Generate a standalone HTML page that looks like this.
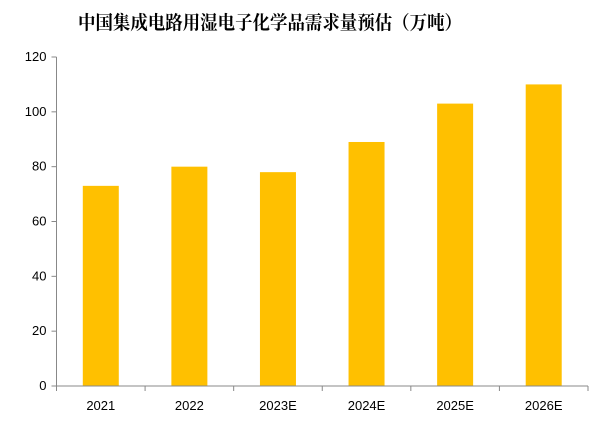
<!DOCTYPE html>
<html><head><meta charset="utf-8"><style>
body{margin:0;background:#fff;}
svg text{font-family:"Liberation Sans","Noto Sans CJK SC",sans-serif;}
</style></head><body>
<svg width="602" height="420" xmlns="http://www.w3.org/2000/svg">
<text x="78" y="29" font-size="19" font-weight="bold" fill="#000" textLength="384" lengthAdjust="spacingAndGlyphs" style="font-family:'Liberation Serif','Noto Serif CJK SC',serif">中国集成电路用湿电子化学品需求量预估（万吨）</text>
<g id="g"></g>
</svg>
<script>
const categories=["2021","2022","2023E","2024E","2025E","2026E"];
const values=[73,80,78,89,103,110];
const yTicks=[0,20,40,60,80,100,120];
const x0=56.5,x1=588,y0=386,y1=57,yMax=120;
const bw=(x1-x0)/categories.length;
function ys(v){return y0-(v/yMax)*(y0-y1);}
function xc(i){return x0+bw*(i+0.5);}
const g=document.getElementById('g');const NS="http://www.w3.org/2000/svg";
function mk(t,a){const e=document.createElementNS(NS,t);for(const k in a)e.setAttribute(k,a[k]);g.appendChild(e);return e;}
values.forEach((v,i)=>{const r=mk('rect',{x:xc(i)-18,y:ys(v),width:36,height:y0-ys(v),fill:'#FFC000'});

});
let ax=mk('line',{x1:x0,y1:y1,x2:x0,y2:y0,stroke:'#888','stroke-width':1});


let bx=mk('line',{x1:x0,y1:y0,x2:x1,y2:y0,stroke:'#888','stroke-width':1});


yTicks.forEach(v=>{mk('line',{x1:x0-5,y1:ys(v),x2:x0,y2:ys(v),stroke:'#888'});
const t=mk('text',{x:x0-10,y:ys(v)+4,'text-anchor':'end','font-size':13,fill:'#000'});t.textContent=v;

});
for(let i=0;i<=categories.length;i++){mk('line',{x1:x0+bw*i,y1:y0,x2:x0+bw*i,y2:y0+5,stroke:'#888'});}
categories.forEach((c,i)=>{const t=mk('text',{x:xc(i),y:410,'text-anchor':'middle','font-size':13,fill:'#000'});t.textContent=c;

});
</script>
</body></html>
